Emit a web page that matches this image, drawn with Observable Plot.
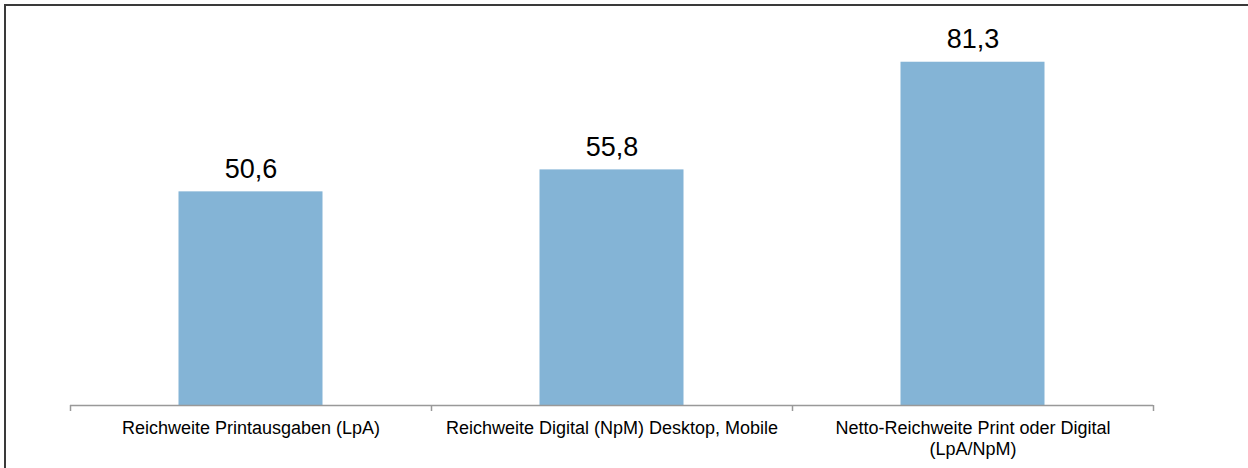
<!DOCTYPE html>
<html>
<head>
<meta charset="utf-8">
<script src="https://cdn.jsdelivr.net/npm/d3@7"></script>
<script src="https://cdn.jsdelivr.net/npm/@observablehq/plot@0.6"></script>
<style>
  html, body { margin: 0; padding: 0; background: #fff; overflow: hidden; }
  #wrap { position: relative; width: 1248px; height: 468px; }
  #frame { position: absolute; left: 4px; top: 4px; width: 2000px; height: 2000px;
           border-left: 2px solid #3a3a3a; border-top: 2px solid #3a3a3a; pointer-events: none; }
  #chart svg { display: block; }
</style>
</head>
<body>
<div id="wrap">
  <div id="chart"></div>
  <div id="frame"></div>
</div>
<script>
const categories = [
  "Reichweite Printausgaben (LpA)",
  "Reichweite Digital (NpM) Desktop, Mobile",
  "Netto-Reichweite Print oder Digital\n(LpA/NpM)"
];
const values = [50.6, 55.8, 81.3];
const valueLabels = ["50,6", "55,8", "81,3"];

const data = categories.map((c, i) => ({ category: c, value: values[i], label: valueLabels[i] }));

const halfStep = (1248 - 70 - 95) / categories.length / 2;

const chart = Plot.plot({
  width: 1248,
  height: 468,
  marginLeft: 70,
  marginRight: 95,
  marginTop: 25,
  marginBottom: 63,
  style: { fontFamily: "'Liberation Sans', Arial, sans-serif", background: "transparent", color: "#000" },
  x: { domain: categories, padding: 0, axis: null, label: null },
  y: { domain: [0, 90], axis: null },
  marks: [
    Plot.barY(data, { x: "category", y: "value", fill: "#84B4D6", insetLeft: 108.5, insetRight: 108.5 }),
    Plot.ruleY([0], { stroke: "#999", strokeWidth: 1.5 }),
    Plot.axisX({ tickSize: 6, tickFormat: () => "", label: null, dx: -halfStep, stroke: "#999", strokeWidth: 1.5 }),
    Plot.axisX({ ticks: [categories[categories.length - 1]], tickSize: 6, tickFormat: () => "", label: null, dx: halfStep, stroke: "#999", strokeWidth: 1.5 }),
    Plot.axisX({ tickSize: 0, tickPadding: 14, fontSize: 18, lineHeight: 1.15, fill: "#000", label: null }),
    Plot.text(data, { x: "category", y: "value", text: "label", lineAnchor: "bottom", dy: -14, fontSize: 27, fill: "#000" })
  ]
});
document.getElementById("chart").appendChild(chart);
</script>
</body>
</html>
